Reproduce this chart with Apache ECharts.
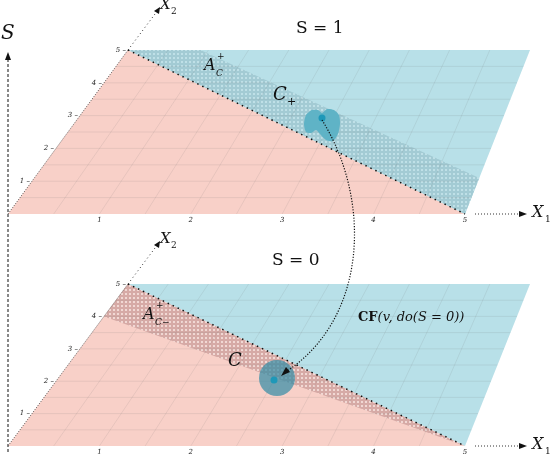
<!DOCTYPE html>
<html><head><meta charset="utf-8">
<script src="https://cdn.jsdelivr.net/npm/echarts@6/dist/echarts.min.js"></script>
<style>html,body{margin:0;background:#fff}#c{width:550px;height:460px}</style>
</head><body><div id="c"></div>
<script>
// plane corners in page coords: bottom-left, bottom-right, top-right, top-left
const topPlane = [[8, 214], [465, 214], [530, 50], [128, 50]];
const bottomPlane = [[8, 446], [465, 446], [530, 284], [128, 284]];
const x1Ticks = ['1', '2', '3', '4', '5'];
const x2Ticks = ['1', '2', '3', '4', '5'];
// band edges in plane coords (u = X1, v = X2), both 0..5
const diagonal = [[0, 5], [5, 0]];
const topBandEdge = [[0.9, 5], [5, 1.1]];
const bottomBandEdge = [[0, 4], [5, 0]];
// blobs (page coords)
const topBlob = [[306, 132], [304, 124], [306, 115], [312, 110], [318, 110], [322, 113], [327, 109], [334, 110], [339, 115], [340, 124], [338, 134], [333, 141], [326, 140], [320, 134], [316, 130], [311, 133]];
const topPoint = [322, 118];
const bottomBlob = [277, 378, 18];
const bottomPoint = [274, 380];
const arrowCurve = [[322, 120], [372, 200], [368, 320], [284, 373]];

function P(plane, u, v) {
  const t = v / 5, s = u / 5;
  const lx = plane[0][0] + (plane[3][0] - plane[0][0]) * t;
  const ly = plane[0][1] + (plane[3][1] - plane[0][1]) * t;
  const rx = plane[1][0] + (plane[2][0] - plane[1][0]) * t;
  const ry = plane[1][1] + (plane[2][1] - plane[1][1]) * t;
  return [lx + (rx - lx) * s, ly + (ry - ly) * s];
}

function dotPattern(bg, dot) {
  const cv = document.createElement('canvas');
  cv.width = 4; cv.height = 4;
  const g = cv.getContext('2d');
  g.fillStyle = bg; g.fillRect(0, 0, 4, 4);
  g.fillStyle = dot; g.fillRect(1, 1, 2, 2);
  return { image: cv, repeat: 'repeat' };
}

function txt(text, x, y, font) {
  return { type: 'text', style: { text: text, x: x, y: y, font: font, fill: '#111' } };
}

function planeGroup(api, plane, isTop) {
  const c = p => api.coord(p);
  const pp = (u, v) => c(P(plane, u, v));
  const kids = [];
  // pink lower-left triangle, blue upper-right triangle
  kids.push({ type: 'polygon', shape: { points: [pp(0, 0), pp(5, 0), pp(0, 5)] }, style: { fill: '#f8d0c8' } });
  kids.push({ type: 'polygon', shape: { points: [pp(0, 5), pp(5, 5), pp(5, 0)] }, style: { fill: '#b8e0e8' } });
  if (isTop) {
    const e = topBandEdge;
    kids.push({ type: 'polygon', shape: { points: [pp(0, 5), pp(e[0][0], e[0][1]), pp(e[1][0], e[1][1]), pp(5, 0)] },
      style: { fill: dotPattern('#a3cbd4', '#bfe0e7') } });
  } else {
    const e = bottomBandEdge;
    kids.push({ type: 'polygon', shape: { points: [pp(0, 5), pp(e[0][0], e[0][1]), pp(e[1][0], e[1][1])] },
      style: { fill: dotPattern('#d6aaa6', '#f1d8d4') } });
  }
  // grid
  for (let k = 0.5; k < 5; k += 0.5) {
    kids.push({ type: 'line', shape: { x1: pp(k, 0)[0], y1: pp(k, 0)[1], x2: pp(k, 5)[0], y2: pp(k, 5)[1] }, style: { stroke: 'rgba(110,110,110,0.12)', lineWidth: 1 } });
    kids.push({ type: 'line', shape: { x1: pp(0, k)[0], y1: pp(0, k)[1], x2: pp(5, k)[0], y2: pp(5, k)[1] }, style: { stroke: 'rgba(110,110,110,0.12)', lineWidth: 1 } });
  }
  // dotted diagonal
  const d0 = pp(diagonal[0][0], diagonal[0][1]), d1 = pp(diagonal[1][0], diagonal[1][1]);
  kids.push({ type: 'line', shape: { x1: d0[0], y1: d0[1], x2: d1[0], y2: d1[1] }, style: { stroke: '#111', lineWidth: 1.5, lineDash: [1.5, 4] } });
  // left edge dotted
  kids.push({ type: 'line', shape: { x1: pp(0, 0)[0], y1: pp(0, 0)[1], x2: pp(0, 5)[0], y2: pp(0, 5)[1] }, style: { stroke: '#333', lineWidth: 0.8, lineDash: [1, 1.5] } });
  // X2 axis extension
  const a0 = pp(0, 5), a1 = [a0[0] + 30, a0[1] - 40];
  kids.push({ type: 'line', shape: { x1: a0[0], y1: a0[1], x2: a1[0], y2: a1[1] }, style: { stroke: '#333', lineWidth: 1, lineDash: [1, 3] } });
  kids.push({ type: 'polygon', shape: { points: [[a1[0] + 2, a1[1] - 3], [a1[0] - 4, a1[1] + 1], [a1[0] + 1, a1[1] + 4]] }, style: { fill: '#111' } });
  kids.push(txt('X', a1[0] + 2, a1[1] - 12, 'italic 15px "DejaVu Serif"'));
  kids.push(txt('2', a1[0] + 13, a1[1] - 3, '9px "DejaVu Serif"'));
  // X1 axis
  const b0 = pp(5, 0);
  kids.push({ type: 'line', shape: { x1: b0[0] + 10, y1: b0[1], x2: b0[0] + 58, y2: b0[1] }, style: { stroke: '#333', lineWidth: 1, lineDash: [1, 2] } });
  kids.push({ type: 'polygon', shape: { points: [[b0[0] + 62, b0[1]], [b0[0] + 54, b0[1] - 3], [b0[0] + 54, b0[1] + 3]] }, style: { fill: '#111' } });
  kids.push(txt('X', b0[0] + 67, b0[1] - 9, 'italic 16px "DejaVu Serif"'));
  kids.push(txt('1', b0[0] + 80, b0[1] + 1, '9px "DejaVu Serif"'));
  // tick labels
  x1Ticks.forEach((t, i) => {
    const q = pp(i + 1, 0);
    kids.push({ type: 'text', style: { text: t, x: q[0], y: q[1] + 3, font: 'italic 7px "DejaVu Serif"', fill: '#222', align: 'center' } });
  });
  x2Ticks.forEach((t, i) => {
    const q = pp(0, i + 1);
    kids.push({ type: 'text', style: { text: t + ' –', x: q[0] - 2, y: q[1], font: 'italic 7px "DejaVu Serif"', fill: '#222', align: 'right', verticalAlign: 'middle' } });
  });
  return kids;
}

const chart = echarts.init(document.getElementById('c'));
chart.setOption({
  animation: false,
  grid: { left: 0, right: 0, top: 0, bottom: 0 },
  xAxis: { type: 'value', min: 0, max: 550, show: false },
  yAxis: { type: 'value', min: 0, max: 460, inverse: true, show: false },
  series: [{
    type: 'custom',
    coordinateSystem: 'cartesian2d',
    data: [[0, 0]],
    renderItem: function (params, api) {
      const c = p => api.coord(p);
      const kids = [];
      // S axis
      const s0 = c([8, 452]), s1 = c([8, 56]);
      kids.push({ type: 'line', shape: { x1: s0[0], y1: s0[1], x2: s1[0], y2: s1[1] }, style: { stroke: '#111', lineWidth: 1, lineDash: [3, 2] } });
      kids.push({ type: 'polygon', shape: { points: [[s1[0], s1[1] - 4], [s1[0] - 3, s1[1] + 4], [s1[0] + 3, s1[1] + 4]] }, style: { fill: '#111' } });
      kids.push(txt('S', 1, 24, 'italic 20px "DejaVu Serif"'));
      kids.push(...planeGroup(api, topPlane, true));
      kids.push(...planeGroup(api, bottomPlane, false));
      // titles and labels
      kids.push(txt('S = 1', 296, 20, '17px "DejaVu Serif"'));
      kids.push(txt('S = 0', 272, 252, '17px "DejaVu Serif"'));
      kids.push({ type: 'text', style: { rich: { b: { font: 'bold 13px "DejaVu Serif"', fill: '#111' }, i: { font: 'italic 13px "DejaVu Serif"', fill: '#111' } }, text: '{b|CF}{i|(v, do(S = 0))}', x: 358, y: 311 } });
      kids.push(txt('A', 204, 58, 'italic 16px "DejaVu Serif"'));
      kids.push(txt('+', 217, 52, '9px "DejaVu Serif"'));
      kids.push(txt('C', 216, 69, 'italic 9px "DejaVu Serif"'));
      kids.push(txt('C', 273, 86, 'italic 18px "DejaVu Serif"'));
      kids.push(txt('+', 287, 97, '11px "DejaVu Serif"'));
      kids.push(txt('A', 143, 307, 'italic 16px "DejaVu Serif"'));
      kids.push(txt('+', 156, 301, '9px "DejaVu Serif"'));
      kids.push(txt('C−', 155, 318, 'italic 9px "DejaVu Serif"'));
      kids.push(txt('C', 228, 352, 'italic 18px "DejaVu Serif"'));
      // blobs
      kids.push({ type: 'polygon', shape: { points: topBlob.map(c), smooth: 0.25 }, style: { fill: '#5fb3c6' } });
      const tp = c(topPoint);
      kids.push({ type: 'circle', shape: { cx: tp[0], cy: tp[1], r: 3.5 }, style: { fill: '#1e98b8' } });
      const bb = c([bottomBlob[0], bottomBlob[1]]);
      kids.push({ type: 'circle', shape: { cx: bb[0], cy: bb[1], r: bottomBlob[2] }, style: { fill: 'rgba(50,140,165,0.7)' } });
      const bp = c(bottomPoint);
      kids.push({ type: 'circle', shape: { cx: bp[0], cy: bp[1], r: 3.5 }, style: { fill: '#1e98b8' } });
      // curved arrow
      const q = arrowCurve.map(c);
      kids.push({ type: 'bezierCurve', shape: { x1: q[0][0], y1: q[0][1], cpx1: q[1][0], cpy1: q[1][1], cpx2: q[2][0], cpy2: q[2][1], x2: q[3][0], y2: q[3][1] }, style: { stroke: '#111', fill: null, lineWidth: 1.2, lineDash: [1.2, 1.6] } });
      const e = q[3];
      kids.push({ type: 'polygon', shape: { points: [[e[0] - 3, e[1] + 3], [e[0] + 2, e[1] - 6], [e[0] + 6, e[1] - 1]] }, style: { fill: '#111' } });
      return { type: 'group', children: kids };
    }
  }]
});
</script></body></html>
